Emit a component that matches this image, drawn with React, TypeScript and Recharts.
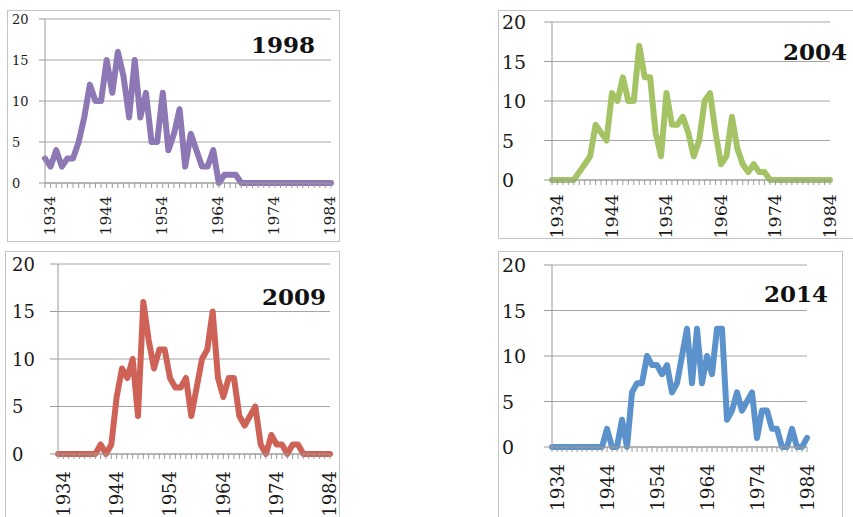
import React from "react";
import { LineChart, Line, XAxis, YAxis, CartesianGrid } from "recharts";

const YEARS = [
  1934, 1935, 1936, 1937, 1938, 1939, 1940, 1941, 1942, 1943,
  1944, 1945, 1946, 1947, 1948, 1949, 1950, 1951, 1952, 1953,
  1954, 1955, 1956, 1957, 1958, 1959, 1960, 1961, 1962, 1963,
  1964, 1965, 1966, 1967, 1968, 1969, 1970, 1971, 1972, 1973,
  1974, 1975, 1976, 1977, 1978, 1979, 1980, 1981, 1982, 1983,
  1984, 1985,
];

const LABELED_YEARS = [1934, 1944, 1954, 1964, 1974, 1984];
const Y_TICKS = [0, 5, 10, 15, 20];

const V1998 = [
  3, 2, 4, 2, 3, 3, 5, 8, 12, 10,
  10, 15, 11, 16, 13, 8, 15, 8, 11, 5,
  5, 11, 4, 6, 9, 2, 6, 4, 2, 2,
  4, 0, 1, 1, 1, 0, 0, 0, 0, 0,
  0, 0, 0, 0, 0, 0, 0, 0, 0, 0,
  0, 0,
];

const V2004 = [
  0, 0, 0, 0, 0, 1, 2, 3, 7, 6,
  5, 11, 10, 13, 10, 10, 17, 13, 13, 6,
  3, 11, 7, 7, 8, 6, 3, 5, 10, 11,
  6, 2, 3, 8, 4, 2, 1, 2, 1, 1,
  0, 0, 0, 0, 0, 0, 0, 0, 0, 0,
  0, 0,
];

const V2009 = [
  0, 0, 0, 0, 0, 0, 0, 0, 1, 0,
  1, 6, 9, 8, 10, 4, 16, 12, 9, 11,
  11, 8, 7, 7, 8, 4, 7, 10, 11, 15,
  8, 6, 8, 8, 4, 3, 4, 5, 1, 0,
  2, 1, 1, 0, 1, 1, 0, 0, 0, 0,
  0, 0,
];

const V2014 = [
  0, 0, 0, 0, 0, 0, 0, 0, 0, 0,
  0, 2, 0, 0, 3, 0, 6, 7, 7, 10,
  9, 9, 8, 9, 6, 7, 10, 13, 7, 13,
  7, 10, 8, 13, 13, 3, 4, 6, 4, 5,
  6, 1, 4, 4, 2, 2, 0, 0, 2, 0,
  0, 1,
];

const FONT = "'DejaVu Serif', 'Liberation Serif', serif";
const GRID = "#a6a6a6";
const AXIS = "#9a9a9a";
const BORDER = "#c4c4c4";

type Panel = {
  title: string;
  values: number[];
  color: string;
  box: { x: number; y: number; w: number; h: number };
  plot: { l: number; t: number; r: number; b: number };
  yFont: number;
  xFont: number;
  labelLeft: number;
  xGap: number;
  titlePos: { x: number; y: number };
};

const PANELS: Panel[] = [
  {
    title: "1998",
    values: V1998,
    color: "#8d77b5",
    box: { x: 7, y: 10, w: 333, h: 232 },
    plot: { l: 45, t: 19, r: 331, b: 183 },
    yFont: 13,
    xFont: 15.5,
    labelLeft: 12,
    xGap: 13,
    titlePos: { x: 251, y: 53 },
  },
  {
    title: "2004",
    values: V2004,
    color: "#a4c365",
    box: { x: 498, y: 10, w: 400, h: 229 },
    plot: { l: 552, t: 22, r: 830, b: 180 },
    yFont: 19,
    xFont: 17.5,
    labelLeft: 502,
    xGap: 14,
    titlePos: { x: 783, y: 60 },
  },
  {
    title: "2009",
    values: V2009,
    color: "#cf6257",
    box: { x: 5, y: 251, w: 335, h: 300 },
    plot: { l: 58, t: 264, r: 330, b: 454 },
    yFont: 18,
    xFont: 18,
    labelLeft: 12,
    xGap: 17,
    titlePos: { x: 262, y: 305 },
  },
  {
    title: "2014",
    values: V2014,
    color: "#5b92cb",
    box: { x: 498, y: 251, w: 345, h: 300 },
    plot: { l: 552, t: 265, r: 807, b: 447 },
    yFont: 19,
    xFont: 18.5,
    labelLeft: 502,
    xGap: 17,
    titlePos: { x: 764, y: 302 },
  },
];

function MiniChart({ p }: { p: Panel }) {
  const data = YEARS.map((year, i) => ({ year, value: p.values[i] }));
  const yW = p.plot.l - p.box.x;
  const xH = 60;
  const mTop = p.plot.t - p.box.y;
  const mRight = p.box.x + p.box.w - p.plot.r;
  const mBottom = p.box.y + p.box.h - p.plot.b - xH;

  const yTick = (props: any) => {
    const { y, payload } = props;
    return (
      <text
        x={p.labelLeft - p.box.x}
        y={y}
        textAnchor="start"
        dominantBaseline="central"
        fontFamily={FONT}
        fontSize={p.yFont}
        fill="#1a1a1a"
      >
        {payload.value}
      </text>
    );
  };

  const xTick = (props: any) => {
    const { x, payload } = props;
    if (!LABELED_YEARS.includes(payload.value)) return <g />;
    const ty = p.plot.b - p.box.y + p.xGap;
    const tx = x + 5;
    return (
      <text
        x={tx}
        y={ty}
        transform={`rotate(-90, ${tx}, ${ty})`}
        textAnchor="end"
        dominantBaseline="central"
        fontFamily={FONT}
        fontSize={p.xFont}
        fill="#1a1a1a"
      >
        {payload.value}
      </text>
    );
  };

  return (
    <div style={{ position: "absolute", left: p.box.x, top: p.box.y }}>
      <LineChart
        width={p.box.w}
        height={p.box.h}
        data={data}
        margin={{ top: mTop, right: mRight, bottom: mBottom, left: 0 }}
      >
        <CartesianGrid vertical={false} stroke={GRID} strokeWidth={1} />
        <XAxis
          dataKey="year"
          type="category"
          interval={0}
          height={xH}
          tick={xTick}
          tickSize={5}
          tickLine={{ stroke: AXIS }}
          axisLine={{ stroke: AXIS }}
        />
        <YAxis
          domain={[0, 20]}
          ticks={Y_TICKS}
          width={yW}
          tick={yTick}
          tickSize={p.yFont < 15 ? 6 : 8}
          tickLine={{ stroke: AXIS }}
          axisLine={{ stroke: AXIS }}
        />
        <Line
          dataKey="value"
          stroke={p.color}
          strokeWidth={6}
          strokeLinejoin="round"
          strokeLinecap="round"
          dot={false}
          activeDot={false}
          isAnimationActive={false}
        />
      </LineChart>
    </div>
  );
}

export default function App() {
  return (
    <div
      style={{
        position: "absolute",
        left: 0,
        top: 0,
        width: 853,
        height: 517,
        overflow: "hidden",
        background: "#fff",
      }}
    >
      {PANELS.map((p) => (
        <div
          key={"b" + p.title}
          style={{
            position: "absolute",
            left: p.box.x,
            top: p.box.y,
            width: p.box.w,
            height: p.box.h,
            border: `1px solid ${BORDER}`,
            boxSizing: "border-box",
          }}
        />
      ))}
      {PANELS.map((p) => (
        <MiniChart key={p.title} p={p} />
      ))}
      <svg
        width={853}
        height={517}
        style={{ position: "absolute", left: 0, top: 0, pointerEvents: "none" }}
      >
        {PANELS.map((p) => (
          <text
            key={"t" + p.title}
            x={p.titlePos.x}
            y={p.titlePos.y}
            fontFamily={FONT}
            fontWeight="bold"
            fontSize={23}
            fill="#111"
          >
            {p.title}
          </text>
        ))}
      </svg>
    </div>
  );
}
